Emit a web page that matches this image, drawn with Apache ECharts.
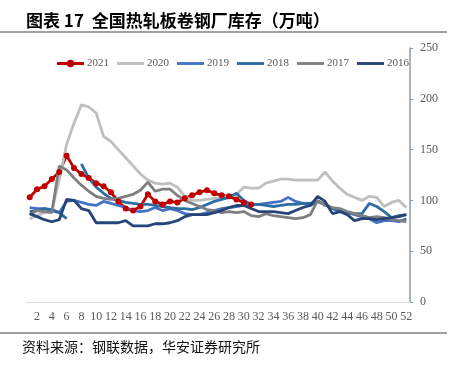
<!DOCTYPE html>
<html>
<head>
<meta charset="utf-8">
<script src="https://cdn.jsdelivr.net/npm/echarts@6/dist/echarts.min.js"></script>
<style>
html,body{margin:0;padding:0;background:#fff;}
#chart{width:452px;height:365px;}
</style>
</head>
<body>
<div id="chart"></div>
<script>
// Week categories 1..52
var weeks = [];
for (var i = 1; i <= 52; i++) weeks.push(String(i));

var s2021 = [103,111,114,121,128,144,132,126,122,117,114,108,99,92,90,94,106,99,96,99,98,102,105,108,110,107,105,104,101,98,96];
var s2020 = [82,85,88,90,120,155,176,194,192,186,163,158,150,142,134,126,120,117,116,117,113,104,
             100,100,101,102,103,104,106,113,112,112,117,119,121,121,120,120,120,120,128,119,112,106,103,100,104,103,94,98,100,93];
var s2019 = [93,92,92,91,88,99,100,98,96,95,99,97,95,93,90,89,90,93,90,92,
             90,87,86,86,88,90,92,93,94,95,96,96,97,98,99,103,99,97,95,99,96,92,90,88,86,84,82,78,80,80,79,82];
var s2018 = [89,90,92,90,88,82,null,136,122,113,107,102,100,98,97,96,96,95,94,93,92,92,91,93,96,99,101,103,107,
             100,96,96,95,94,95,96,96,97,97,99,96,92,89,88,87,87,97,94,89,83,85,86];
var s2017 = [86,90,89,88,134,130,122,115,109,104,102,101,102,104,106,110,118,109,111,111,105,100,97,94,91,
             90,88,89,88,89,85,84,87,85,84,83,82,83,86,100,95,93,92,89,87,85,83,84,83,81,80,79];
var s2016 = [87,84,81,79,81,101,100,92,90,78,78,78,78,80,75,75,75,77,77,78,80,84,86,86,86,88,90,
             93,95,95,92,89,89,89,88,87,90,93,95,104,99,87,89,86,80,82,82,81,82,83,84,86];

var seriesNames = ['2021','2020','2019','2018','2017','2016'];
var seriesData = [s2021, s2020, s2019, s2018, s2017, s2016];
var colors = ['#C00000','#BFBFBF','#4472C4','#2E6DA4','#7F7F7F','#264478'];

var yTicks = [0, 50, 100, 150, 200, 250];

var lineIcon = 'path://M0,0 L0,0 M0,3 L28,3 L28,6 L0,6 Z M28,9 L28,9';
var dotLineIcon = 'path://M0,3 L28,3 L28,6 L0,6 Z M17.8,4.5 A3.8,3.8 0 1,1 10.2,4.5 A3.8,3.8 0 1,1 17.8,4.5 Z M0,0 L0,0 M28,9 L28,9';

var chart = echarts.init(document.getElementById('chart'), null, {renderer: 'canvas'});

var series = seriesNames.map(function (n, k) {
  var isRed = k === 0;
  return {
    name: n,
    type: 'line',
    data: seriesData[k],
    showSymbol: isRed,
    showAllSymbol: true,
    symbol: isRed ? 'circle' : 'none',
    symbolSize: 6,
    connectNulls: false,
    lineStyle: {width: 2.8, color: colors[k]},
    itemStyle: {color: colors[k]},
    animation: false
  };
});

chart.setOption({
  animation: false,
  color: colors,
  title: {
    text: '图表 17  全国热轧板卷钢厂库存（万吨）',
    left: 21, top: 7,
    textStyle: {fontFamily: 'Noto Sans CJK SC', fontWeight: 'bold', fontSize: 17, color: '#000'}
  },
  legend: {
    data: seriesNames.map(function (n, k) { return {name: n, icon: k === 0 ? dotLineIcon : lineIcon}; }),
    top: 53, left: 52,
    itemWidth: 27, itemHeight: 9, itemGap: 8,
    textStyle: {fontFamily: 'Liberation Serif', fontSize: 11, color: '#595959', padding: [0, 0, 0, -2]}
  },
  grid: {left: 26, right: 42, top: 48, bottom: 63},
  xAxis: {
    type: 'category',
    data: weeks,
    boundaryGap: true,
    axisLine: {lineStyle: {color: '#D9D9D9', width: 1}},
    axisTick: {show: false},
    axisLabel: {
      interval: function (idx) { return idx % 2 === 1; },
      fontFamily: 'Liberation Serif', fontSize: 12, color: '#595959', margin: 9
    },
    splitLine: {show: false}
  },
  yAxis: {
    type: 'value',
    position: 'right',
    min: yTicks[0], max: yTicks[yTicks.length - 1], interval: 50,
    axisLine: {show: true, lineStyle: {color: '#8D9DB5', width: 1.5}},
    axisTick: {show: true, inside: false, length: 3, lineStyle: {color: '#8D9DB5'}},
    axisLabel: {fontFamily: 'Liberation Serif', fontSize: 12, color: '#595959', margin: 10},
    splitLine: {show: false}
  },
  graphic: [
    {type: 'line', shape: {x1: 0, y1: 32, x2: 447, y2: 32}, style: {stroke: '#404040', lineWidth: 1}},
    {type: 'line', shape: {x1: 0, y1: 333, x2: 447, y2: 333}, style: {stroke: '#404040', lineWidth: 1}},
    {type: 'text', left: 22, top: 340, style: {text: '资料来源：钢联数据，华安证券研究所', fontFamily: 'Noto Sans CJK SC', fontSize: 14, fill: '#111'}}
  ],
  series: series
});
</script>
</body>
</html>
